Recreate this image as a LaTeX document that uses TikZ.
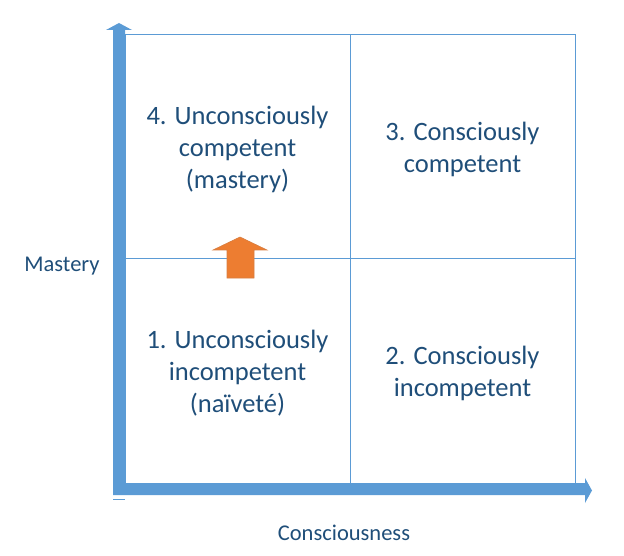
\documentclass[tikz,border=0pt]{standalone}
\usepackage{fontspec}
\setmainfont{Carlito}
\definecolor{axisblue}{HTML}{5B9BD5}
\definecolor{textblue}{HTML}{1F4E79}
\definecolor{arroworange}{HTML}{ED7D31}

\begin{document}
\begin{tikzpicture}[x=1pt, y=-1pt,
  quadtext/.style={textblue, font=\fontsize{26.5}{32}\selectfont, align=center},
  axislabel/.style={textblue, font=\fontsize{22.5}{27}\selectfont}]

% Frame: pixel coordinates, y grows downwards
\useasboundingbox (0,0) rectangle (624,556);

% Grid corners
\def\gl{125}
\def\gr{575}
\def\gt{35}
\def\gb{483}
\def\gm{350}
\def\gh{259}

% --- Quadrant grid ---
\draw[axisblue, line width=1pt] (\gl,\gt) rectangle (\gr,\gb);
\draw[axisblue, line width=1pt] (\gm,\gt) -- (\gm,\gb);
\draw[axisblue, line width=1pt] (\gl,\gh) -- (\gr,\gh);

% --- Axes as block arrows ---
\fill[axisblue] (113,495) -- (113,30) -- (106,30) -- (119,23) -- (132,30)
  -- (125,30) -- (125,483) -- (585,483) -- (585,478) -- (592,490.5)
  -- (585,503) -- (585,495) -- cycle;
\draw[axisblue, line width=1pt] (113,499.5) -- (125,499.5);

% --- Orange step arrow ---
\draw[arroworange!80!gray, line width=0.6pt, fill=arroworange]
  (227,278) -- (227,250) -- (213,250) -- (240,237) -- (267,250)
  -- (254,250) -- (254,278) -- cycle;

% --- Quadrant labels ---
\foreach \name/\px/\py/\txt in {
    q4/237.5/149.5/{4. Unconsciously\\competent\\(mastery)},
    q3/462.5/149.5/{3. Consciously\\competent},
    q1/237.5/373/{1. Unconsciously\\incompetent\\(naïveté)},
    q2/462.5/373.5/{2. Consciously\\incompetent}} {
  \node[quadtext] (\name) at (\px,\py) {\txt};
}

% --- Axis labels ---
\node[axislabel] (mastery) at (62,266) {Mastery};
\node[axislabel] (consciousness) at (344,533) {Consciousness};

\end{tikzpicture}
\end{document}
